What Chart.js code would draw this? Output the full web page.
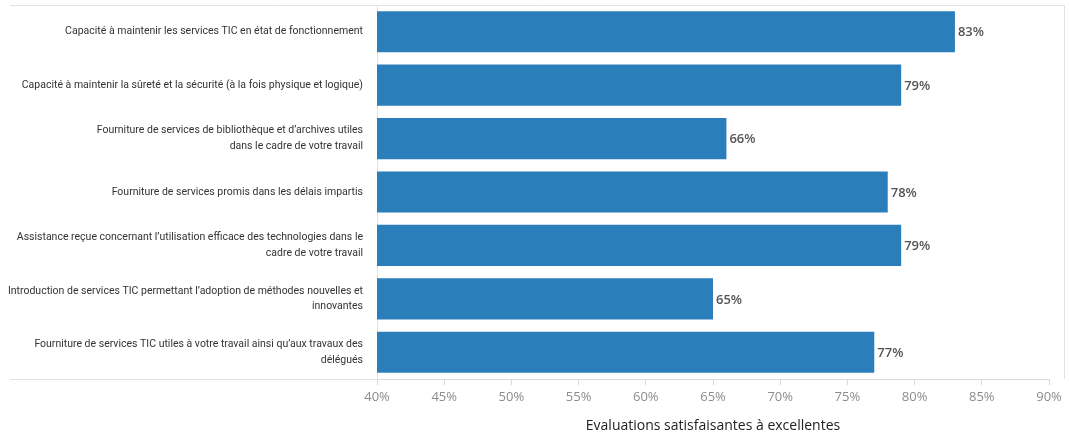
<!DOCTYPE html>
<html>
<head>
<meta charset="utf-8">
<script src="https://cdn.jsdelivr.net/npm/chart.js@4/dist/chart.umd.min.js"></script>
<style>
  html, body { margin: 0; padding: 0; background: #fff; }
  #wrap { width: 1069px; height: 438px; position: relative; }
</style>
</head>
<body>
<div id="wrap"><canvas id="chart"></canvas></div>
<script>
const categories = [
    'Capacité à maintenir les services TIC en état de fonctionnement',
    'Capacité à maintenir la sûreté et la sécurité (à la fois physique et logique)',
    ['Fourniture de services de bibliothèque et d\u2019archives utiles', 'dans le cadre de votre travail'],
    'Fourniture de services promis dans les délais impartis',
    ['Assistance reçue concernant l\u2019utilisation efficace des technologies dans le', 'cadre de votre travail'],
    ['Introduction de services TIC permettant l\u2019adoption de méthodes nouvelles et', 'innovantes'],
    ['Fourniture de services TIC utiles à votre travail ainsi qu\u2019aux travaux des', 'délégués']
];
const satisfaction = [83, 79, 66, 78, 79, 65, 77];
const xTicks = [40, 45, 50, 55, 60, 65, 70, 75, 80, 85, 90];
const axisTitle = 'Evaluations satisfaisantes à excellentes';

// light frame lines around the plot, like the original export
const frame = {
    id: 'frame',
    beforeDatasetsDraw(chart) {
        const { ctx, chartArea } = chart;
        ctx.save();
        ctx.strokeStyle = '#e3e3e3';
        ctx.lineWidth = 1;
        ctx.beginPath();
        ctx.moveTo(10, chartArea.top + 0.5);
        ctx.lineTo(1065, chartArea.top + 0.5);
        ctx.moveTo(10, chartArea.bottom + 0.5);
        ctx.lineTo(chartArea.left, chartArea.bottom + 0.5);
        ctx.moveTo(1064.5, chartArea.top);
        ctx.lineTo(1064.5, chartArea.bottom);
        ctx.stroke();
        ctx.restore();
    }
};

// percentage labels at the end of each bar
const valueLabels = {
    id: 'valueLabels',
    afterDatasetsDraw(chart) {
        const { ctx } = chart;
        const meta = chart.getDatasetMeta(0);
        ctx.save();
        ctx.font = '600 13px "Open Sans", sans-serif';
        ctx.fillStyle = '#555';
        ctx.textAlign = 'left';
        ctx.textBaseline = 'middle';
        meta.data.forEach((bar, i) => {
            ctx.fillText(satisfaction[i] + '%', bar.x + 3, bar.y + 1);
        });
        ctx.restore();
    }
};

new Chart(document.getElementById('chart'), {
    type: 'bar',
    data: {
        labels: categories,
        datasets: [{
            data: satisfaction,
            backgroundColor: '#2a7fba',
            borderWidth: 0,
            barPercentage: 0.77,
            categoryPercentage: 1
        }]
    },
    options: {
        indexAxis: 'y',
        responsive: true,
        maintainAspectRatio: false,
        animation: false,
        layout: { padding: { top: 5, right: 20, left: 0, bottom: 0 } },
        plugins: {
            legend: { display: false },
            tooltip: { enabled: false }
        },
        scales: {
            x: {
                min: xTicks[0],
                max: xTicks[xTicks.length - 1],
                afterBuildTicks: (scale) => { scale.ticks = xTicks.map(v => ({ value: v })); },
                afterFit: (scale) => { scale.height = 59; },
                border: { display: true, color: '#d9d9d9' },
                grid: { drawOnChartArea: false, drawTicks: true, tickLength: 6, color: '#d9d9d9' },
                ticks: {
                    padding: 4,
                    color: '#8c8c8c',
                    font: { family: '"Open Sans", sans-serif', size: 13 },
                    callback: (v) => v + '%'
                },
                title: {
                    display: true,
                    text: axisTitle,
                    color: '#222',
                    font: { family: '"Open Sans", sans-serif', size: 14 },
                    padding: { top: 2, bottom: 4 }
                }
            },
            y: {
                afterFit: (scale) => {
                    scale.width = 377;
                    scale.paddingTop = 0;
                    scale.paddingBottom = 0;
                },
                border: { display: true, color: '#e3e3e3' },
                grid: { display: false, drawTicks: false },
                ticks: {
                    padding: 14,
                    color: '#333',
                    font: { family: 'Roboto, sans-serif', size: 10.5, lineHeight: 1.5 }
                }
            }
        }
    },
    plugins: [frame, valueLabels]
});
</script>
</body>
</html>
